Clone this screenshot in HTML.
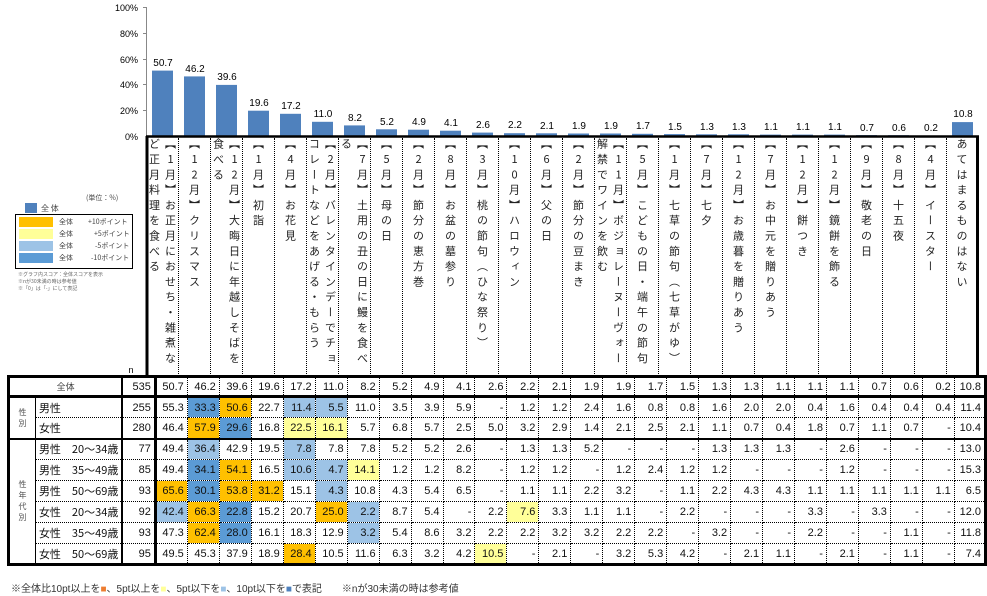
<!DOCTYPE html>
<html><head><meta charset="utf-8">
<style>
*{margin:0;padding:0;box-sizing:border-box}
body{width:987px;height:596px;background:#fff;position:relative;overflow:hidden;font-family:"Liberation Sans","Noto Sans CJK JP",sans-serif;color:#111}
.hd{position:absolute;top:138px;width:32px;height:238px;border-right:1px dotted #000;display:flex;justify-content:center}
.hd span{writing-mode:vertical-rl;text-orientation:upright;height:232px;font-size:11px;letter-spacing:4.3px;line-height:16px;font-family:"Noto Sans CJK JP",sans-serif;color:#222}
table{position:absolute;left:7px;top:375px;border-collapse:collapse;table-layout:fixed;font-size:11px}
td{height:21px;border-right:1px dotted #000;border-bottom:1px dotted #000;text-align:right;padding-right:3px;white-space:nowrap;overflow:hidden;line-height:14px}
tr.all td{border-top:3px solid #000;border-bottom:3px solid #000;height:20px}
tr.sep td{border-bottom:2px solid #000}
tr.last td{border-bottom:3px solid #000}
td.n{border-right:3px solid #000}
td.nm{text-align:left;padding-left:3px;border-right:2px solid #000;font-family:"Noto Sans CJK JP",sans-serif;font-size:11px}
td.sec{border-left:3px solid #000;border-right:1px solid #000;text-align:center;padding:0;font-size:8px;color:#555;line-height:11px;font-family:"Noto Sans CJK JP",sans-serif}
td.last{border-right:3px solid #000}
.o{background:#ffc000}.y{background:#ffff99}.l{background:#9dc3e6}.b{background:#5b9bd5}
.lg{position:absolute;font-size:7px;color:#444;font-family:"Noto Sans CJK JP",sans-serif}
</style></head><body>
<svg width="987" height="596" style="position:absolute;left:0;top:0" font-family="Liberation Sans" font-size="9">
<g fill="#000" text-anchor="end" font-size="9">
<text x="138" y="11">100%</text><text x="138" y="37">80%</text><text x="138" y="63">60%</text><text x="138" y="88">40%</text><text x="138" y="114">20%</text><text x="138" y="140">0%</text>
</g>
<g stroke="#888" stroke-width="1"><line x1="146.5" y1="7" x2="146.5" y2="136"/>
<line x1="143" y1="7.5" x2="147" y2="7.5"/><line x1="143" y1="33.5" x2="147" y2="33.5"/><line x1="143" y1="59.5" x2="147" y2="59.5"/><line x1="143" y1="84.5" x2="147" y2="84.5"/><line x1="143" y1="110.5" x2="147" y2="110.5"/></g>
<g fill="#4f81bd">
<rect x="152" y="70.6" width="21" height="65.4"/>
<rect x="184" y="76.4" width="21" height="59.6"/>
<rect x="216" y="84.9" width="21" height="51.1"/>
<rect x="248" y="110.7" width="21" height="25.3"/>
<rect x="280" y="113.8" width="21" height="22.2"/>
<rect x="312" y="121.8" width="21" height="14.2"/>
<rect x="344" y="125.4" width="21" height="10.6"/>
<rect x="376" y="129.3" width="21" height="6.7"/>
<rect x="408" y="129.7" width="21" height="6.3"/>
<rect x="440" y="130.7" width="21" height="5.3"/>
<rect x="472" y="132.6" width="21" height="3.4"/>
<rect x="504" y="133.2" width="21" height="2.8"/>
<rect x="536" y="133.3" width="21" height="2.7"/>
<rect x="568" y="133.5" width="21" height="2.5"/>
<rect x="600" y="133.5" width="21" height="2.5"/>
<rect x="632" y="133.8" width="21" height="2.2"/>
<rect x="664" y="134.1" width="21" height="1.9"/>
<rect x="696" y="134.3" width="21" height="1.7"/>
<rect x="728" y="134.3" width="21" height="1.7"/>
<rect x="760" y="134.6" width="21" height="1.4"/>
<rect x="792" y="134.6" width="21" height="1.4"/>
<rect x="824" y="134.6" width="21" height="1.4"/>
<rect x="856" y="135.1" width="21" height="0.9"/>
<rect x="888" y="135.2" width="21" height="0.8"/>
<rect x="920" y="135.7" width="21" height="0.3"/>
<rect x="952" y="122.1" width="21" height="13.9"/>
</g>
<g fill="#000" text-anchor="middle" font-size="10">
<text x="163" y="66">50.7</text><text x="195" y="72">46.2</text><text x="227" y="80">39.6</text><text x="259" y="106">19.6</text><text x="291" y="109">17.2</text><text x="323" y="117">11.0</text><text x="355" y="121">8.2</text><text x="387" y="125">5.2</text><text x="419" y="125">4.9</text><text x="451" y="126">4.1</text><text x="483" y="128">2.6</text><text x="515" y="128">2.2</text><text x="547" y="129">2.1</text><text x="579" y="129">1.9</text><text x="611" y="129">1.9</text><text x="643" y="129">1.7</text><text x="675" y="130">1.5</text><text x="707" y="130">1.3</text><text x="739" y="130">1.3</text><text x="771" y="130">1.1</text><text x="803" y="130">1.1</text><text x="835" y="130">1.1</text><text x="867" y="131">0.7</text><text x="899" y="131">0.6</text><text x="931" y="131">0.2</text><text x="963" y="117">10.8</text>
</g>
<line x1="146" y1="136.5" x2="979" y2="136.5" stroke="#000" stroke-width="2.5"/>
<line x1="147" y1="136" x2="147" y2="376" stroke="#000" stroke-width="3"/>
<line x1="977.5" y1="136" x2="977.5" y2="376" stroke="#000" stroke-width="3"/>
<text x="131" y="373" font-size="9" text-anchor="middle">n</text>
</svg>

<div class="hd" style="left:147px"><span>【1月】お正月におせち・雑煮など正月料理を食べる</span></div>
<div class="hd" style="left:179px"><span>【12月】クリスマス</span></div>
<div class="hd" style="left:211px"><span>【12月】大晦日に年越しそばを食べる</span></div>
<div class="hd" style="left:243px"><span>【1月】初詣</span></div>
<div class="hd" style="left:275px"><span>【4月】お花見</span></div>
<div class="hd" style="left:307px"><span>【2月】バレンタインデーでチョコレートなどをあげる・もらう</span></div>
<div class="hd" style="left:339px"><span>【7月】土用の丑の日に鰻を食べる</span></div>
<div class="hd" style="left:371px"><span>【5月】母の日</span></div>
<div class="hd" style="left:403px"><span>【2月】節分の恵方巻</span></div>
<div class="hd" style="left:435px"><span>【8月】お盆の墓参り</span></div>
<div class="hd" style="left:467px"><span>【3月】桃の節句（ひな祭り）</span></div>
<div class="hd" style="left:499px"><span>【10月】ハロウィン</span></div>
<div class="hd" style="left:531px"><span>【6月】父の日</span></div>
<div class="hd" style="left:563px"><span>【2月】節分の豆まき</span></div>
<div class="hd" style="left:595px"><span>【11月】ボジョレーヌーヴォー解禁でワインを飲む</span></div>
<div class="hd" style="left:627px"><span>【5月】こどもの日・端午の節句</span></div>
<div class="hd" style="left:659px"><span>【1月】七草の節句（七草がゆ）</span></div>
<div class="hd" style="left:691px"><span>【7月】七夕</span></div>
<div class="hd" style="left:723px"><span>【12月】お歳暮を贈りあう</span></div>
<div class="hd" style="left:755px"><span>【7月】お中元を贈りあう</span></div>
<div class="hd" style="left:787px"><span>【12月】餅つき</span></div>
<div class="hd" style="left:819px"><span>【12月】鏡餅を飾る</span></div>
<div class="hd" style="left:851px"><span>【9月】敬老の日</span></div>
<div class="hd" style="left:883px"><span>【8月】十五夜</span></div>
<div class="hd" style="left:915px"><span>【4月】イースター</span></div>
<div class="hd" style="left:947px;border-right:none;width:30px"><span>あてはまるものはない</span></div>

<div class="lg" style="left:86px;top:193px">(単位：%)</div>
<div style="position:absolute;left:25px;top:203px;width:12px;height:10px;background:#4f81bd"></div>
<div class="lg" style="left:41px;top:203px;font-size:8px">全 体</div>
<div style="position:absolute;left:15px;top:214px;width:118px;height:55px;border:1px solid #000"></div>
<div style="position:absolute;left:19px;top:217px;width:34px;height:10px;background:#ffc000"></div>
<div style="position:absolute;left:19px;top:229px;width:34px;height:10px;background:#ffff99"></div>
<div style="position:absolute;left:19px;top:241px;width:34px;height:10px;background:#9dc3e6"></div>
<div style="position:absolute;left:19px;top:253px;width:34px;height:10px;background:#5b9bd5"></div>
<div class="lg" style="left:59px;top:217px">全体</div><div class="lg" style="left:88px;top:217px">+10ポイント</div>
<div class="lg" style="left:59px;top:229px">全体</div><div class="lg" style="left:94px;top:229px">+5ポイント</div>
<div class="lg" style="left:59px;top:241px">全体</div><div class="lg" style="left:95px;top:241px">-5ポイント</div>
<div class="lg" style="left:59px;top:253px">全体</div><div class="lg" style="left:91px;top:253px">-10ポイント</div>
<div class="lg" style="left:18px;top:271px;font-size:5px;line-height:7px;color:#666">※グラフ内スコア：全体スコアを表示<br>※nが30未満の時は参考値<br>※「0」は「-」にして表記</div>

<table>
<colgroup><col style="width:27px"><col style="width:80px"><col style="width:33px">
<col span="25" style="width:32px"><col style="width:31px"></colgroup>
<tr class="all"><td colspan="2" class="nm" style="text-align:center;border-left:3px solid #000;font-size:9px;color:#444">全体</td><td class="n">535</td><td>50.7</td><td>46.2</td><td>39.6</td><td>19.6</td><td>17.2</td><td>11.0</td><td>8.2</td><td>5.2</td><td>4.9</td><td>4.1</td><td>2.6</td><td>2.2</td><td>2.1</td><td>1.9</td><td>1.9</td><td>1.7</td><td>1.5</td><td>1.3</td><td>1.3</td><td>1.1</td><td>1.1</td><td>1.1</td><td>0.7</td><td>0.6</td><td>0.2</td><td class="last">10.8</td></tr>
<tr><td class="sec" rowspan="2" style="border-bottom:2px solid #000">性<br>別</td><td class="nm">男性</td><td class="n">255</td><td>55.3</td><td class="b">33.3</td><td class="o">50.6</td><td>22.7</td><td class="l">11.4</td><td class="l">5.5</td><td>11.0</td><td>3.5</td><td>3.9</td><td>5.9</td><td>-</td><td>1.2</td><td>1.2</td><td>2.4</td><td>1.6</td><td>0.8</td><td>0.8</td><td>1.6</td><td>2.0</td><td>2.0</td><td>0.4</td><td>1.6</td><td>0.4</td><td>0.4</td><td>0.4</td><td class="last">11.4</td></tr>
<tr class="sep"><td class="nm">女性</td><td class="n">280</td><td>46.4</td><td class="o">57.9</td><td class="b">29.6</td><td>16.8</td><td class="y">22.5</td><td class="y">16.1</td><td>5.7</td><td>6.8</td><td>5.7</td><td>2.5</td><td>5.0</td><td>3.2</td><td>2.9</td><td>1.4</td><td>2.1</td><td>2.5</td><td>2.1</td><td>1.1</td><td>0.7</td><td>0.4</td><td>1.8</td><td>0.7</td><td>1.1</td><td>0.7</td><td>-</td><td class="last">10.4</td></tr>
<tr><td class="sec" rowspan="6" style="border-bottom:3px solid #000">性<br>年<br>代<br>別</td><td class="nm">男性　20～34歳</td><td class="n">77</td><td>49.4</td><td class="l">36.4</td><td>42.9</td><td>19.5</td><td class="l">7.8</td><td>7.8</td><td>7.8</td><td>5.2</td><td>5.2</td><td>2.6</td><td>-</td><td>1.3</td><td>1.3</td><td>5.2</td><td>-</td><td>-</td><td>-</td><td>1.3</td><td>1.3</td><td>1.3</td><td>-</td><td>2.6</td><td>-</td><td>-</td><td>-</td><td class="last">13.0</td></tr>
<tr><td class="nm">男性　35～49歳</td><td class="n">85</td><td>49.4</td><td class="b">34.1</td><td class="o">54.1</td><td>16.5</td><td class="l">10.6</td><td class="l">4.7</td><td class="y">14.1</td><td>1.2</td><td>1.2</td><td>8.2</td><td>-</td><td>1.2</td><td>1.2</td><td>-</td><td>1.2</td><td>2.4</td><td>1.2</td><td>1.2</td><td>-</td><td>-</td><td>-</td><td>1.2</td><td>-</td><td>-</td><td>-</td><td class="last">15.3</td></tr>
<tr><td class="nm">男性　50～69歳</td><td class="n">93</td><td class="o">65.6</td><td class="b">30.1</td><td class="o">53.8</td><td class="o">31.2</td><td>15.1</td><td class="l">4.3</td><td>10.8</td><td>4.3</td><td>5.4</td><td>6.5</td><td>-</td><td>1.1</td><td>1.1</td><td>2.2</td><td>3.2</td><td>-</td><td>1.1</td><td>2.2</td><td>4.3</td><td>4.3</td><td>1.1</td><td>1.1</td><td>1.1</td><td>1.1</td><td>1.1</td><td class="last">6.5</td></tr>
<tr><td class="nm">女性　20～34歳</td><td class="n">92</td><td class="l">42.4</td><td class="o">66.3</td><td class="b">22.8</td><td>15.2</td><td>20.7</td><td class="o">25.0</td><td class="l">2.2</td><td>8.7</td><td>5.4</td><td>-</td><td>2.2</td><td class="y">7.6</td><td>3.3</td><td>1.1</td><td>1.1</td><td>-</td><td>2.2</td><td>-</td><td>-</td><td>-</td><td>3.3</td><td>-</td><td>3.3</td><td>-</td><td>-</td><td class="last">12.0</td></tr>
<tr><td class="nm">女性　35～49歳</td><td class="n">93</td><td>47.3</td><td class="o">62.4</td><td class="b">28.0</td><td>16.1</td><td>18.3</td><td>12.9</td><td class="l">3.2</td><td>5.4</td><td>8.6</td><td>3.2</td><td>2.2</td><td>2.2</td><td>3.2</td><td>3.2</td><td>2.2</td><td>2.2</td><td>-</td><td>3.2</td><td>-</td><td>-</td><td>2.2</td><td>-</td><td>-</td><td>1.1</td><td>-</td><td class="last">11.8</td></tr>
<tr class="last"><td class="nm">女性　50～69歳</td><td class="n">95</td><td>49.5</td><td>45.3</td><td>37.9</td><td>18.9</td><td class="o">28.4</td><td>10.5</td><td>11.6</td><td>6.3</td><td>3.2</td><td>4.2</td><td class="y">10.5</td><td>-</td><td>2.1</td><td>-</td><td>3.2</td><td>5.3</td><td>4.2</td><td>-</td><td>2.1</td><td>1.1</td><td>-</td><td>2.1</td><td>-</td><td>1.1</td><td>-</td><td class="last">7.4</td></tr>
</table>

<div style="position:absolute;left:11px;top:580px;font-size:10px;color:#333;font-family:'Liberation Sans','Noto Sans CJK JP',sans-serif;white-space:nowrap">※全体比10pt以上を<span style="color:#ed7d31">■</span>、5pt以上を<span style="color:#ffff99">■</span>、5pt以下を<span style="color:#9dc3e6">■</span>、10pt以下を<span style="color:#4f81bd">■</span>で表記　　※nが30未満の時は参考値</div>
</body></html>
